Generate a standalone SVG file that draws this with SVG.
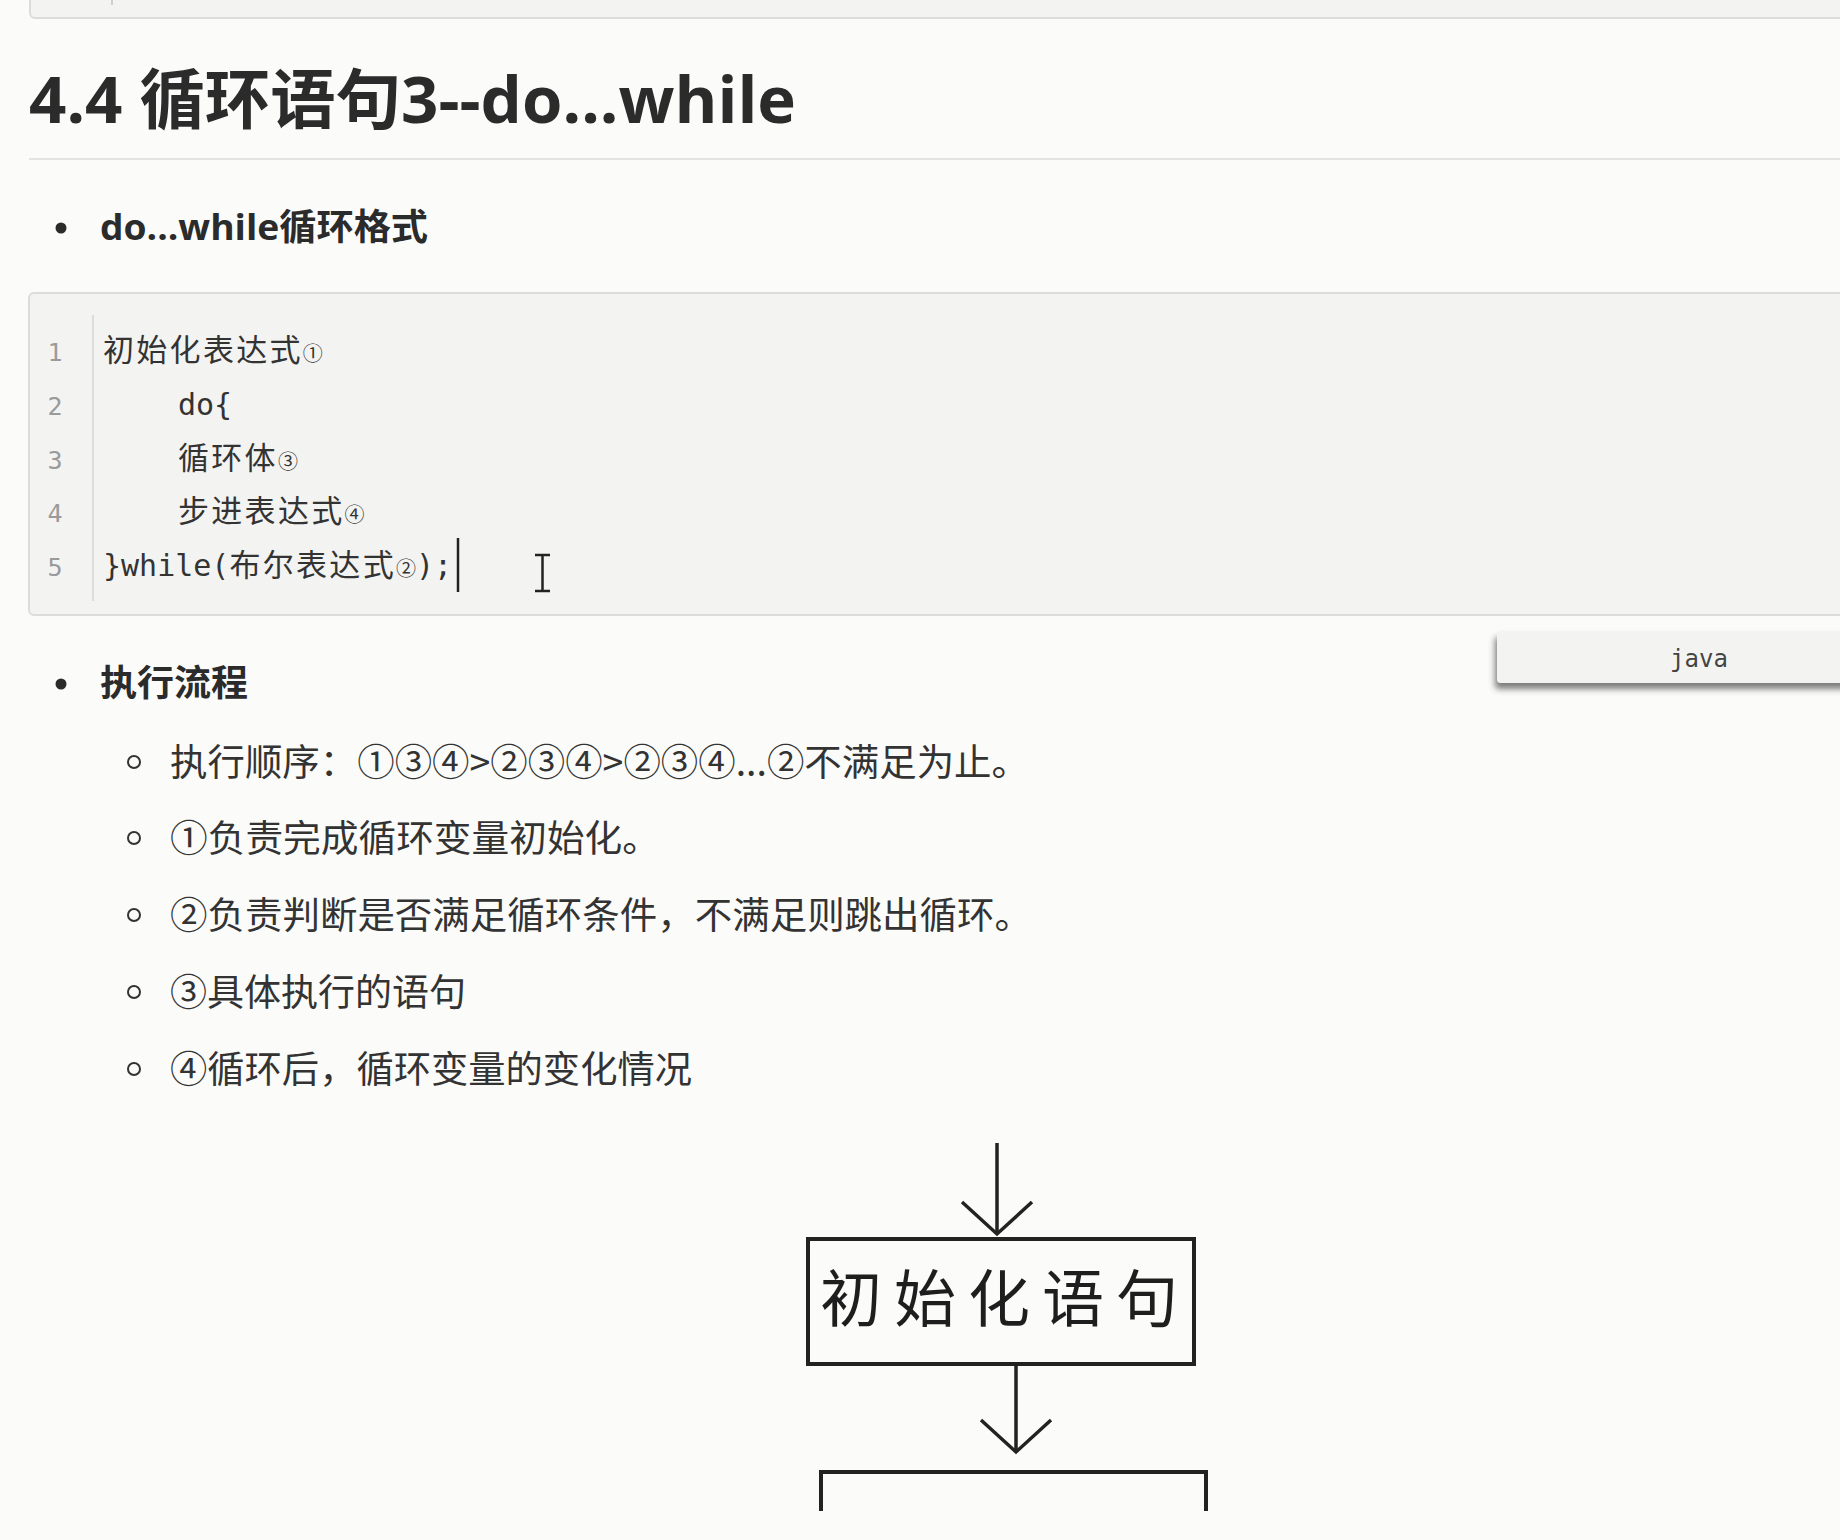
<svg xmlns="http://www.w3.org/2000/svg" width="1840" height="1540" viewBox="0 0 1840 1540">
<style>
  .h { font-family: "Open Sans", "Noto Sans CJK SC", sans-serif; font-weight: 700; fill: #2b2b2b; }
  .t { font-family: "Noto Sans CJK SC", sans-serif; font-weight: 400; fill: #333; font-size: 37px; }
  .mono { font-family: "DejaVu Sans Mono", "Noto Sans CJK SC", monospace; font-size: 30px; fill: #333; }
  .cj { font-family: "Noto Sans CJK SC", sans-serif; font-size: 31px; letter-spacing: 2.3px; }
  .sm { font-family: "Noto Sans CJK SC", sans-serif; font-size: 20px; letter-spacing: 0; }
  .ln { font-family: "DejaVu Sans Mono", monospace; font-size: 25px; fill: #9a9a9a; text-anchor: middle; }
  .block { fill: #f3f4f2; stroke: #dcdddb; stroke-width: 2; }
  .box { fill: none; stroke: #222; stroke-width: 4; }
  .conn { stroke: #222; stroke-width: 3.5; fill: none; }
  .bt { font-family: "Noto Sans CJK SC", sans-serif; font-size: 62px; fill: #1e1e1e; }
</style>
<defs>
  <marker id="vhead" markerUnits="userSpaceOnUse" markerWidth="40" markerHeight="72" refX="32" refY="35" orient="auto" overflow="visible">
    <path d="M0,0 L32,35 L0,70" fill="none" stroke="#222" stroke-width="3.5"/>
  </marker>
  <filter id="shadow" x="-10%" y="-30%" width="120%" height="180%">
    <feDropShadow dx="-2" dy="6" stdDeviation="3" flood-color="#444" flood-opacity="0.7"/>
  </filter>
</defs>

<rect x="0" y="0" width="1840" height="1540" fill="#fbfcfa"/>

<g id="prev-code-block">
  <rect class="block" x="30" y="-20" width="1840" height="38" rx="5"/>
  <line x1="112" y1="0" x2="112" y2="5" stroke="#cfcfcf" stroke-width="2"/>
</g>

<g id="title">
  <text class="h" x="29" y="123" font-size="65" textLength="767" lengthAdjust="spacingAndGlyphs">4.4 循环语句3--do...while</text>
  <line x1="29" y1="159" x2="1840" y2="159" stroke="#e4e5e3" stroke-width="2"/>
</g>

<g id="bullet-format">
  <circle cx="61" cy="228" r="5.5" fill="#2b2b2b"/>
  <text class="h" x="100" y="240" font-size="36" textLength="328" lengthAdjust="spacingAndGlyphs">do...while循环格式</text>
</g>

<g id="code-block">
  <rect class="block" x="29" y="293" width="1840" height="322" rx="5"/>
  <line x1="93" y1="315" x2="93" y2="601" stroke="#dcdddb" stroke-width="2"/>
  <text class="ln" x="55" y="361">1</text>
  <text class="ln" x="55" y="415">2</text>
  <text class="ln" x="55" y="469">3</text>
  <text class="ln" x="55" y="522">4</text>
  <text class="ln" x="55" y="576">5</text>
  <text class="mono" x="103" y="361"><tspan class="cj">初始化表达式</tspan><tspan class="sm">①</tspan></text>
  <text class="mono" x="178" y="415">do{</text>
  <text class="mono" x="178" y="469"><tspan class="cj">循环体</tspan><tspan class="sm">③</tspan></text>
  <text class="mono" x="178" y="522"><tspan class="cj">步进表达式</tspan><tspan class="sm">④</tspan></text>
  <text class="mono" x="103" y="576">}while(<tspan class="cj">布尔表达式</tspan><tspan class="sm">②</tspan>);</text>
  <line x1="458" y1="538" x2="458" y2="592" stroke="#222" stroke-width="2.5"/>
  <path d="M535,555 H550 M542.5,555 V591 M535,591 H550" stroke="#222" stroke-width="2.5" fill="none"/>
</g>

<g id="java-tab">
  <rect x="1497" y="631" width="360" height="52" rx="4" fill="#f3f4f2" filter="url(#shadow)"/>
  <text x="1699" y="667" font-family="DejaVu Sans Mono, monospace" font-size="24" fill="#444" text-anchor="middle">java</text>
</g>

<g id="bullet-flow">
  <circle cx="61" cy="684" r="5.5" fill="#2b2b2b"/>
  <text class="h" x="100" y="696" font-size="36" textLength="148" lengthAdjust="spacingAndGlyphs">执行流程</text>
</g>

<g id="sub-bullets" fill="none" stroke="#333" stroke-width="2">
  <circle cx="134" cy="762" r="6"/>
  <circle cx="134" cy="838" r="6"/>
  <circle cx="134" cy="915" r="6"/>
  <circle cx="134" cy="992" r="6"/>
  <circle cx="134" cy="1069" r="6"/>
</g>
<g id="sub-texts">
  <text class="t" x="170" y="776" textLength="859" lengthAdjust="spacingAndGlyphs">执行顺序：①③④&gt;②③④&gt;②③④...②不满足为止。</text>
  <text class="t" x="170" y="852" textLength="490" lengthAdjust="spacingAndGlyphs">①负责完成循环变量初始化。</text>
  <text class="t" x="170" y="929" textLength="862" lengthAdjust="spacingAndGlyphs">②负责判断是否满足循环条件，不满足则跳出循环。</text>
  <text class="t" x="170" y="1006" textLength="296" lengthAdjust="spacingAndGlyphs">③具体执行的语句</text>
  <text class="t" x="170" y="1083" textLength="522" lengthAdjust="spacingAndGlyphs">④循环后，循环变量的变化情况</text>
</g>

<g id="node-init">
  <rect class="box" x="808" y="1239" width="386" height="125"/>
  <text class="bt" x="820" y="1322" textLength="358" lengthAdjust="spacing">初始化语句</text>
</g>

<g id="node-body">
  <path class="box" d="M821,1511 V1472 H1206 V1511"/>
</g>

<g id="connectors">
  <line class="conn" x1="997" y1="1143" x2="997" y2="1234" marker-end="url(#vhead)"/>
  <line class="conn" x1="1016" y1="1364" x2="1016" y2="1452" marker-end="url(#vhead)"/>
</g>
</svg>
